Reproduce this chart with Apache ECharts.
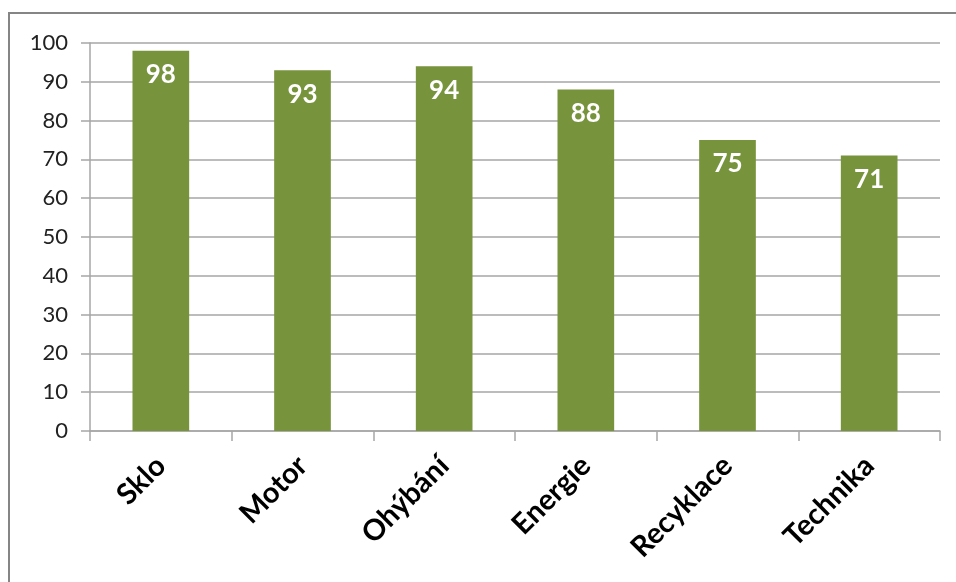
<!DOCTYPE html>
<html>
<head>
<meta charset="utf-8">
<script src="https://cdn.jsdelivr.net/npm/echarts@6/dist/echarts.min.js"></script>
<style>
  html, body { margin: 0; padding: 0; background: #fff; }
  #chart { width: 956px; height: 582px; }
</style>
</head>
<body>
<div id="chart"></div>
<script>
// Categories and their scores
const categories = ['Sklo', 'Motor', 'Ohýbání', 'Energie', 'Recyklace', 'Technika'];
const scores = [98, 93, 94, 88, 75, 71];
const yTicks = [0, 10, 20, 30, 40, 50, 60, 70, 80, 90, 100];

const chart = echarts.init(document.getElementById('chart'));
chart.setOption({
  animation: false,
  backgroundColor: '#ffffff',
  grid: { left: 90, right: 16, top: 43, bottom: 151 },
  graphic: [{
    type: 'polyline',
    shape: { points: [[9, 582], [9, 13], [956, 13]] },
    style: { stroke: '#858585', lineWidth: 2, fill: null },
    silent: true
  }],
  xAxis: {
    type: 'category',
    data: categories,
    boundaryGap: true,
    axisLine: { lineStyle: { color: '#a6a6a6', width: 1.5 } },
    axisTick: { show: true, length: 10, alignWithLabel: false, lineStyle: { color: '#a6a6a6', width: 1.5 } },
    axisLabel: {
      rotate: 45,
      margin: 30,
      color: '#000',
      fontFamily: 'Lato',
      fontWeight: 'bold',
      fontSize: 29
    }
  },
  yAxis: {
    type: 'value',
    min: yTicks[0],
    max: yTicks[yTicks.length - 1],
    interval: 10,
    axisLine: { show: true, lineStyle: { color: '#a6a6a6', width: 1.5 } },
    axisTick: { show: true, length: 9, lineStyle: { color: '#a6a6a6', width: 1.5 } },
    splitLine: { lineStyle: { color: '#a6a6a6', width: 1.5 } },
    axisLabel: {
      margin: 22,
      color: '#222',
      fontFamily: 'Lato',
      fontSize: 22
    }
  },
  series: [{
    type: 'bar',
    data: scores,
    barWidth: '40%',
    itemStyle: { color: '#77933C' },
    label: {
      show: true,
      position: 'insideTop',
      distance: 11,
      color: '#ffffff',
      fontFamily: 'Lato',
      fontWeight: 'bold',
      fontSize: 26
    }
  }]
});
</script>
</body>
</html>
